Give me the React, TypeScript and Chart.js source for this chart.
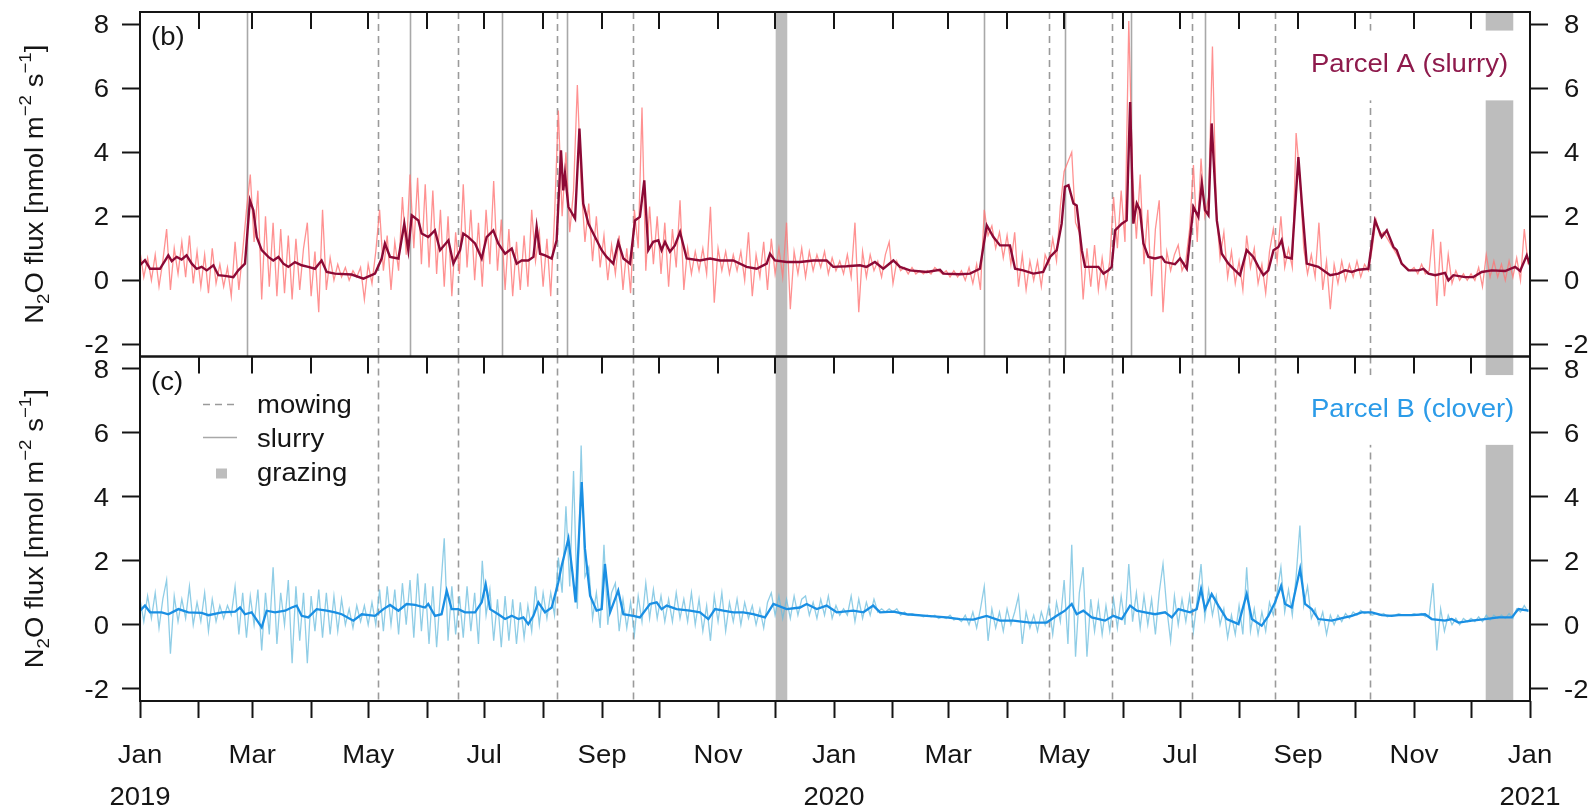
import { useEffect, useRef } from 'react';
import { Chart, registerables } from 'chart.js';

Chart.register(...registerables);

const FONT_FAMILY = '"Liberation Sans", Arial, Helvetica, sans-serif';
const TEXT_STRETCH = 1.1;
const INK = '#151515';

// ---- time axis: days since 1 Jan 2019, ticks at every month start ----
const MONTH_NAMES = ['Jan', 'Feb', 'Mar', 'Apr', 'May', 'Jun', 'Jul', 'Aug', 'Sep', 'Oct', 'Nov', 'Dec'];
const FIRST_YEAR = 2019;
const MONTH_COUNT = 25;
const DAY_MS = 86400000;
const monthStartDays = Array.from(
  { length: MONTH_COUNT },
  (_, k) => (Date.UTC(FIRST_YEAR, k, 1) - Date.UTC(FIRST_YEAR, 0, 1)) / DAY_MS
);
const X_MAX = monthStartDays[MONTH_COUNT - 1];

const Y_TICKS = [-2, 0, 2, 4, 6, 8];
const Y_MIN = -2.38;
const Y_MAX = 8.38;

// ---- management events (day of experiment) ----
const MOWING_DAYS = [125, 167, 219.5, 259.5, 478, 511, 553, 597, 647];
const SLURRY_DAYS = [56.3, 141.8, 190.4, 224.4, 443.9, 486.5, 521, 560];
const GRAZING_PERIODS: [number, number][] = [
  [334.3, 340.4],
  [707.7, 722.2],
];

// ---- smoothed N2O flux, Parcel A (slurry): [day, nmol m-2 s-1] ----
const parcelASmooth: [number, number][] = [
  [0, 0.47], [2.6, 0.63], [5.3, 0.36], [10.5, 0.36], [14.9, 0.78], [16.7, 0.6], [19.3, 0.73], [21.9, 0.65],
  [24.5, 0.78], [27.2, 0.52], [29.8, 0.36], [32.4, 0.42], [35.1, 0.31], [38.6, 0.47], [41.2, 0.16], [44.7, 0.14],
  [49.1, 0.1], [51.7, 0.31], [55.2, 0.52], [57.8, 2.5], [59.6, 2.19], [61.4, 1.35], [64, 0.94], [67.5, 0.73],
  [70.1, 0.62], [72.8, 0.73], [75.4, 0.52], [78, 0.42], [81.5, 0.57], [85, 0.47], [88.5, 0.42], [92, 0.36],
  [95.5, 0.62], [98.2, 0.26], [102.5, 0.21], [111.3, 0.18], [117.5, 0.05], [123.6, 0.21], [127.1, 0.68], [128.8, 1.15],
  [131.5, 0.73], [135.9, 0.68], [139, 1.77], [141.1, 0.94], [142.9, 2.03], [146.4, 1.87], [148.1, 1.46], [151.6, 1.35],
  [155.1, 1.56], [157.8, 0.94], [162.2, 1.25], [164.8, 0.52], [168.3, 0.94], [170, 1.46], [172.7, 1.35], [176.2, 1.15],
  [179.7, 0.68], [182.3, 1.35], [185.8, 1.56], [188.4, 1.15], [192, 0.83], [195.5, 0.99], [198.1, 0.52], [200.7, 0.62],
  [204.2, 0.62], [206.9, 0.73], [208.6, 1.67], [210.4, 0.83], [213, 0.78], [216.5, 0.68], [219.1, 1.25], [221.4, 4.06],
  [222.6, 2.81], [223.5, 3.33], [225.3, 2.29], [228.8, 1.93], [231.1, 4.74], [233.1, 2.4], [235.8, 1.77], [239.3, 1.35],
  [242.8, 0.94], [245.4, 0.73], [248.9, 0.52], [251.5, 1.2], [254.2, 0.68], [257.7, 0.52], [260.3, 1.87], [262.9, 1.98],
  [265.2, 3.12], [267.3, 0.94], [269.9, 1.2], [272.6, 1.25], [274.3, 0.94], [276.1, 1.2], [278.7, 0.89], [281.3, 1.09],
  [284, 1.51], [287.5, 0.68], [294.5, 0.62], [299.8, 0.68], [305, 0.62], [312, 0.62], [319, 0.42], [324.3, 0.36],
  [329.6, 0.52], [331.3, 0.83], [333.9, 0.62], [340.1, 0.57], [347.1, 0.57], [354.1, 0.62], [361.1, 0.62], [364.6, 0.42],
  [371.6, 0.44], [378.6, 0.47], [382.1, 0.42], [386.5, 0.57], [390.9, 0.36], [396.2, 0.62], [399.7, 0.42], [404.9, 0.31],
  [413.7, 0.26], [420.7, 0.33], [422.5, 0.21], [431.2, 0.19], [436.5, 0.21], [441.7, 0.36], [445.3, 1.72], [448.8, 1.35],
  [452.3, 1.09], [457.5, 1.09], [460.2, 0.36], [464.5, 0.31], [469.8, 0.21], [475, 0.26], [478.6, 0.73], [482.1, 0.94],
  [484.7, 1.77], [486.4, 2.92], [488.3, 2.97], [490.9, 2.4], [492.6, 2.34], [495.3, 0.94], [497, 0.42], [504, 0.42],
  [506.7, 0.21], [509.3, 0.31], [511, 0.42], [512.8, 1.56], [516.3, 1.77], [518.9, 1.87], [520.7, 5.57], [522.4, 1.77],
  [524.2, 2.4], [525.9, 2.19], [527.7, 1.15], [530.3, 0.73], [533.8, 0.68], [537.3, 0.73], [539.1, 0.57], [544.3, 0.5],
  [547, 0.68], [550.5, 0.36], [554, 2.29], [556.6, 1.98], [558.4, 3.02], [560.1, 2.19], [561.9, 2.03], [563.6, 4.9],
  [566.3, 1.87], [568.9, 0.83], [572.4, 0.52], [575.9, 0.31], [578.5, 0.16], [582, 0.94], [585.5, 0.73], [588.2, 0.42],
  [590.8, 0.16], [593.4, 0.31], [596.1, 0.94], [598.7, 1.04], [600.4, 1.25], [602.2, 0.73], [605.7, 0.68], [609.2, 3.85],
  [611.3, 2.19], [613.6, 0.52], [619.7, 0.42], [625.9, 0.16], [630.2, 0.21], [633.8, 0.31], [637.3, 0.26], [640.8, 0.33],
  [646, 0.36], [649.5, 1.87], [653, 1.35], [655.7, 1.56], [659.2, 1.04], [660.9, 0.94], [663.5, 0.52], [667.1, 0.31],
  [672.3, 0.31], [675, 0.36], [677.6, 0.21], [681.1, 0.16], [686.3, 0.23], [688.1, 0.0], [690.7, 0.16], [696.9, 0.1],
  [701.2, 0.1], [705.6, 0.26], [710.9, 0.31], [717.9, 0.29], [723.2, 0.42], [725.8, 0.29], [729.3, 0.78], [731, 0.47],
];

// ---- smoothed N2O flux, Parcel B (clover): [day, nmol m-2 s-1] ----
const parcelBSmooth: [number, number][] = [
  [0, 0.44], [2.6, 0.6], [5.3, 0.39], [11.4, 0.39], [14.9, 0.33], [20.2, 0.49], [25.4, 0.39], [32.4, 0.37],
  [36, 0.3], [43, 0.39], [50, 0.41], [52.6, 0.54], [55.2, 0.33], [58.7, 0.39], [64, -0.08], [66.6, 0.44],
  [71, 0.39], [76.3, 0.44], [79.8, 0.54], [82.4, 0.6], [85, 0.28], [88.5, 0.23], [92.9, 0.49], [98.2, 0.44],
  [102.6, 0.39], [106.1, 0.33], [112.2, 0.13], [116.6, 0.33], [123.6, 0.28], [128, 0.49], [131.5, 0.62], [135.9, 0.44],
  [140.2, 0.65], [144.6, 0.62], [149.9, 0.54], [151.6, 0.65], [155.1, 0.28], [158.6, 0.33], [161.3, 1.07], [163.9, 0.49],
  [167.4, 0.49], [170.9, 0.39], [176.2, 0.39], [179.7, 0.7], [181.8, 1.27], [184.1, 0.49], [188.4, 0.33], [192, 0.18],
  [195.5, 0.28], [199, 0.18], [201.6, 0.23], [204.2, 0.02], [206.9, 0.28], [209.5, 0.7], [213, 0.39], [216.5, 0.54],
  [220, 1.33], [221.8, 1.85], [225.3, 2.69], [227.4, 1.64], [229.1, 0.7], [232.3, 4.46], [234, 2.37], [236.7, 0.91],
  [240.1, 0.44], [242.8, 0.49], [244.5, 1.9], [247.2, 0.39], [251.5, 1.07], [254.2, 0.33], [259.4, 0.28], [262.9, 0.23],
  [268.2, 0.65], [271.7, 0.7], [274.3, 0.49], [277, 0.6], [282.2, 0.49], [289.2, 0.44], [294.5, 0.39], [298.9, 0.18],
  [302.4, 0.49], [306.8, 0.44], [312, 0.39], [317.3, 0.39], [322.5, 0.33], [328.7, 0.23], [333.1, 0.65], [340.1, 0.49],
  [347.1, 0.54], [350.6, 0.65], [355.9, 0.49], [361.1, 0.6], [366.4, 0.39], [375.1, 0.44], [380.4, 0.39], [385.6, 0.6],
  [389.2, 0.39], [396.2, 0.41], [403.2, 0.33], [413.7, 0.28], [424.2, 0.23], [431.2, 0.18], [438.2, 0.16], [445.2, 0.28],
  [452.3, 0.13], [459.3, 0.13], [468, 0.07], [476.8, 0.07], [482.1, 0.28], [486.4, 0.44], [490, 0.65], [492.6, 0.33],
  [496.1, 0.44], [500.5, 0.23], [507.5, 0.13], [511.9, 0.28], [516.3, 0.18], [520.7, 0.6], [524.2, 0.44], [528.6, 0.39],
  [533.8, 0.33], [539.1, 0.39], [542.6, 0.23], [546.1, 0.49], [552.2, 0.39], [555.7, 0.49], [558, 1.12], [560.1, 0.49],
  [563.6, 0.96], [567.1, 0.6], [571.5, 0.18], [577.7, 0.02], [582, 0.96], [584.7, 0.18], [589.9, -0.03], [593.4, 0.28],
  [596.9, 0.7], [600.1, 1.22], [602.2, 0.65], [605.7, 0.54], [610.1, 1.75], [612.7, 0.65], [616.2, 0.49], [619.7, 0.18],
  [626.7, 0.13], [633.8, 0.23], [637.3, 0.28], [642.5, 0.39], [647.8, 0.39], [653, 0.3], [658.3, 0.28], [661.8, 0.3],
  [668.8, 0.3], [675.8, 0.33], [679.3, 0.18], [686.3, 0.13], [689.8, 0.18], [693.4, 0.07], [700.4, 0.13], [707.4, 0.18],
  [714.4, 0.23], [721.4, 0.23], [724.9, 0.49], [730.2, 0.44],
];

// ---- raw fluxes, one value every RAW_STEP_DAYS days from 1 Jan 2019 ----
const RAW_STEP_DAYS = 2;

const parcelARaw = [
  0.9, 0.1, 0.7, 0.0, 0.8, -0.2, 0.6, 1.6, -0.3, 1.0, 0.2, 1.2, 0.1, 1.4, -0.1, 0.9, -0.2, 0.8, -0.4, 1.0, -0.1, 0.5, -0.2, 0.4, -0.5,
  1.2, -0.3, 0.9, 2.2, 3.3, 1.2, 2.8, -0.6, 2.0, -0.2, 1.8, -0.5, 1.6, -0.4, 1.4, -0.6, 1.3, -0.3, 1.0, 1.8, -0.5, 0.9, -1.0, 2.2, -0.3,
  0.7, 0.0, 0.5, 0.1, 0.4, 0.0, 0.3, 0.1, 0.4, -0.6, 0.5, -0.1, 0.9, 2.2, 0.3, 1.4, -0.3, 1.2, 0.3, 2.6, 0.8, 3.3, 1.0, 3.2, 0.5,
  3.0, 0.4, 2.8, 0.2, 2.2, -0.2, 2.0, -0.5, 1.5, 0.2, 3.0, 0.4, 2.2, 0.0, 1.8, -0.2, 2.2, 0.5, 3.1, 0.3, 1.9, -0.3, 1.6, -0.5, 1.2,
  -0.3, 1.4, -0.2, 2.2, 0.6, 1.5, -0.2, 1.3, -0.5, 2.0, 5.3, 2.0, 4.0, 1.5, 2.8, 6.1, 3.0, 1.2, 2.4, 0.6, 2.0, 0.4, 1.4, 0.0, 1.1,
  0.2, 1.4, -0.3, 1.0, -0.4, 2.2, 1.0, 5.4, 0.3, 2.3, 0.5, 2.0, 0.2, 1.8, -0.2, 1.6, 0.4, 2.5, -0.3, 1.0, 0.2, 0.9, 0.3, 1.0, 0.2,
  2.3, -0.7, 1.0, 0.3, 0.9, 0.2, 0.8, 0.3, 0.9, 0.0, 1.5, -0.5, 0.8, 0.1, 1.2, -0.3, 1.3, 0.2, 1.0, 0.1, 1.8, -0.9, 0.9, 0.2, 1.0,
  0.1, 0.9, 0.3, 0.8, 0.4, 0.9, 0.2, 0.7, 0.3, 0.6, 0.2, 0.8, 0.1, 1.8, -1.0, 0.9, 0.1, 0.8, 0.3, 0.6, 0.1, 0.8, 1.2, -0.1, 0.6,
  0.3, 0.4, 0.2, 0.4, 0.2, 0.3, 0.2, 0.3, 0.2, 0.4, 0.3, 0.2, 0.3, 0.1, 0.3, 0.1, 0.3, 0.0, 0.4, -0.1, 0.5, -0.3, 2.2, 1.4, 1.7,
  1.0, 1.5, 0.7, 1.4, 0.5, 1.5, -0.2, 0.8, -0.3, 0.6, 0.0, 0.6, -0.2, 0.8, 0.5, 1.3, 0.6, 2.3, 3.4, 3.7, 4.0, 1.8, 1.5, -0.6, 1.0,
  -0.2, 1.1, -0.3, 0.7, -0.2, 0.6, 2.6, 1.0, 2.8, 1.2, 8.1, 3.2, 1.3, 3.3, 0.5, 2.2, -0.5, 1.6, 2.5, -1.0, 0.9, 0.3, 0.8, 1.1, 0.3,
  0.6, 1.6, 3.6, 1.2, 3.8, 2.0, 2.6, 7.3, 2.2, 0.7, 1.5, 0.1, 0.9, -0.1, 0.6, -0.3, 1.4, 0.4, 1.0, -0.1, 0.5, -0.4, 0.9, 1.6, 0.6,
  2.0, 0.4, 1.0, 0.4, 4.6, 3.2, 1.0, 0.2, 0.8, 0.1, 1.8, -0.3, 0.6, -0.9, 0.5, -0.1, 0.6, 0.0, 0.5, 0.1, 0.6, 0.1, 0.5, 0.3, 1.0,
  1.9, 1.4, 1.5, 1.3, 1.1, 0.9, 0.7, 0.5, 0.4, 0.3, 0.4, 0.2, 0.5, 0.2, 0.3, 1.6, -0.8, 1.2, -0.5, 0.8, -0.1, 0.3, 0.0, 0.2, 0.0,
  0.2, 0.0, 0.4, -0.2, 0.8, 0.1, 0.6, 0.1, 0.5, 0.0, 0.6, 0.1, 0.7, 0.0, 1.6, 0.5,
];

const parcelBRaw = [
  0.8, 0.1, 0.9, 0.2, 1.0, -0.1, 0.8, 1.4, -0.9, 0.9, 0.1, 0.8, 0.2, 1.2, 0.0, 0.7, 0.1, 1.0, -0.2, 0.8, 0.1, 0.6, 0.2, 0.6, 0.3,
  1.2, -0.3, 1.0, -0.4, 0.9, 0.0, 1.1, -0.8, 1.0, -0.3, 1.8, -0.6, 1.0, 0.0, 1.4, -1.2, 1.2, -0.5, 1.0, -1.2, 0.9, -0.2, 1.1, -0.4, 1.0,
  -0.3, 0.9, -0.2, 0.8, 0.0, 0.5, -0.1, 0.6, 0.1, 0.6, 0.0, 0.7, 0.0, 1.1, -0.2, 1.2, 0.0, 1.1, -0.3, 1.3, 0.0, 1.4, -0.4, 1.6, -0.2,
  1.3, -0.6, 1.2, -0.7, 1.0, 2.7, -0.5, 1.2, -0.3, 0.9, -0.4, 1.2, -0.2, 1.0, -0.6, 2.0, 0.3, 1.1, -0.5, 0.8, -0.7, 0.9, -0.5, 0.8, -0.6,
  0.7, -0.4, 0.6, -0.2, 1.2, 0.0, 1.0, 0.2, 1.0, 0.3, 2.1, 1.0, 3.7, 1.2, 4.8, 0.5, 5.6, 1.5, 1.8, 0.2, 1.0, -0.1, 2.5, 0.0, 1.0,
  1.3, -0.2, 0.8, -0.1, 0.7, -0.3, 0.9, 0.1, 1.3, 0.2, 1.1, 0.2, 0.9, 0.1, 0.8, 0.1, 1.0, 0.2, 0.8, 0.1, 1.0, 0.0, 0.8, -0.2, 0.6,
  -0.5, 0.9, 0.1, 1.0, -0.2, 0.7, 0.1, 0.8, 0.0, 0.7, 0.2, 0.6, 0.0, 0.5, -0.1, 0.7, 1.0, 0.3, 0.9, 0.2, 0.8, 0.2, 0.9, 0.3, 0.8,
  0.9, 0.3, 0.7, 0.2, 0.8, 0.3, 0.9, 0.2, 0.6, 0.3, 0.5, 0.3, 0.9, 0.1, 0.8, 0.2, 0.7, 0.3, 0.8, 0.4, 0.5, 0.4, 0.5, 0.4, 0.5,
  0.3, 0.4, 0.3, 0.35, 0.3, 0.3, 0.25, 0.3, 0.25, 0.3, 0.2, 0.25, 0.2, 0.3, 0.15, 0.2, 0.1, 0.3, 0.0, 0.4, -0.1, 0.5, 1.2, -0.5, 0.5,
  -0.1, 0.4, -0.2, 0.5, 0.0, 0.4, 0.9, -0.6, 0.4, -0.1, 0.3, -0.2, 0.4, 0.0, 0.6, -0.3, 0.7, 0.1, 1.4, -0.6, 2.5, -1.0, 1.0, 1.8, -1.0,
  0.8, -0.2, 0.7, -0.3, 0.6, -0.2, 0.8, -0.1, 0.9, 0.0, 1.9, 0.1, 1.0, -0.1, 0.9, 0.0, 0.8, -0.3, 1.0, 1.9, 0.5, -0.5, 0.9, 0.0, 0.8,
  0.1, 0.9, -0.2, 0.8, 1.9, 0.2, 1.1, 0.3, 0.9, 0.0, 0.5, -0.4, 0.3, -0.3, 0.6, -0.3, 1.8, -0.2, 0.5, -0.3, 0.4, -0.2, 0.7, 0.3, 1.0,
  1.8, 0.4, 1.1, 0.3, 1.5, 3.1, 0.6, 1.2, 0.2, 0.5, 0.0, 0.4, -0.3, 0.3, 0.0, 0.3, 0.1, 0.35, 0.2, 0.4, 0.3, 0.45, 0.35, 0.4, 0.3,
  0.35, 0.3, 0.35, 0.25, 0.3, 0.3, 0.35, 0.3, 0.3, 0.3, 0.35, 0.3, 0.35, 0.25, 0.3, 1.3, -0.8, 0.5, -0.2, 0.3, 0.0, 0.2, 0.0, 0.2, 0.1,
  0.2, 0.1, 0.25, 0.1, 0.3, 0.15, 0.3, 0.2, 0.3, 0.2, 0.35, 0.2, 0.5, 0.4, 0.6, 0.4,
];

const COLORS = {
  aSmooth: '#8c0a36',
  aRaw: 'rgba(255, 118, 118, 0.8)',
  aLabel: '#8e1a4c',
  bSmooth: '#1a8fe3',
  bRaw: 'rgba(105, 188, 222, 0.75)',
  bLabel: '#2b9be8',
  mowing: '#9a9a9a',
  slurry: '#a8a8a8',
  grazing: '#bdbdbd',
};

type Panel = {
  scaleId: string;
  tag: string;
  name: string;
  nameColor: string;
  showSlurry: boolean;
  showLegend: boolean;
};

const PANELS: Panel[] = [
  { scaleId: 'yA', tag: '(b)', name: 'Parcel A (slurry)', nameColor: COLORS.aLabel, showSlurry: true, showLegend: false },
  { scaleId: 'yB', tag: '(c)', name: 'Parcel B (clover)', nameColor: COLORS.bLabel, showSlurry: false, showLegend: true },
];

function drawText(
  ctx: CanvasRenderingContext2D,
  text: string,
  x: number,
  y: number,
  align: CanvasTextAlign,
  color = INK,
  size = 25
) {
  ctx.save();
  ctx.translate(x, y);
  ctx.scale(TEXT_STRETCH, 1);
  ctx.font = `${size}px ${FONT_FAMILY}`;
  ctx.fillStyle = color;
  ctx.textAlign = align;
  ctx.textBaseline = 'alphabetic';
  ctx.fillText(text, 0, 0);
  ctx.restore();
}

// Rotated axis title with sub- and superscripts: N2O flux [nmol m-2 s-1]
function drawFluxTitle(ctx: CanvasRenderingContext2D, baseX: number, centerY: number) {
  const runs = [
    { t: 'N', s: 25, dy: 0 },
    { t: '2', s: 17, dy: 6 },
    { t: 'O flux [nmol m', s: 25, dy: 0 },
    { t: '\u22122', s: 17, dy: -12 },
    { t: ' s', s: 25, dy: 0 },
    { t: '\u22121', s: 17, dy: -12 },
    { t: ']', s: 25, dy: 0 },
  ];
  ctx.save();
  ctx.translate(baseX, centerY);
  ctx.rotate(-Math.PI / 2);
  ctx.scale(TEXT_STRETCH, 1);
  ctx.fillStyle = INK;
  ctx.textAlign = 'left';
  ctx.textBaseline = 'alphabetic';
  const widths = runs.map((r) => {
    ctx.font = `${r.s}px ${FONT_FAMILY}`;
    return ctx.measureText(r.t).width;
  });
  const total = widths.reduce((a, b) => a + b, 0);
  let x = -total / 2;
  runs.forEach((r, i) => {
    ctx.font = `${r.s}px ${FONT_FAMILY}`;
    ctx.fillText(r.t, x, r.dy);
    x += widths[i];
  });
  ctx.restore();
}

const panelDecor = {
  id: 'panelDecor',
  beforeDatasetsDraw(chart: any) {
    const { ctx, chartArea } = chart;
    const xs = chart.scales.x;
    for (const panel of PANELS) {
      const ys = chart.scales[panel.scaleId];
      const top = ys.top;
      const bottom = ys.bottom;
      ctx.save();
      ctx.beginPath();
      ctx.rect(chartArea.left, top, chartArea.right - chartArea.left, bottom - top);
      ctx.clip();

      // grazing periods
      ctx.fillStyle = COLORS.grazing;
      for (const [a, b] of GRAZING_PERIODS) {
        const x0 = xs.getPixelForValue(a);
        const x1 = xs.getPixelForValue(b);
        ctx.fillRect(x0, top, x1 - x0, bottom - top);
      }

      // mowing
      ctx.strokeStyle = COLORS.mowing;
      ctx.lineWidth = 1.6;
      ctx.setLineDash([7, 5]);
      for (const d of MOWING_DAYS) {
        const x = Math.round(xs.getPixelForValue(d)) + 0.5;
        ctx.beginPath();
        ctx.moveTo(x, top);
        ctx.lineTo(x, bottom);
        ctx.stroke();
      }
      ctx.setLineDash([]);

      // slurry application
      if (panel.showSlurry) {
        ctx.strokeStyle = COLORS.slurry;
        ctx.lineWidth = 1.6;
        for (const d of SLURRY_DAYS) {
          const x = Math.round(xs.getPixelForValue(d)) + 0.5;
          ctx.beginPath();
          ctx.moveTo(x, top);
          ctx.lineTo(x, bottom);
          ctx.stroke();
        }
      }

      // white backing behind the parcel name
      const boxTop = ys.getPixelForValue(7.8);
      const boxBottom = ys.getPixelForValue(5.62);
      ctx.fillStyle = '#ffffff';
      ctx.fillRect(chartArea.right - 236, boxTop, 234, boxBottom - boxTop);
      ctx.restore();
    }
  },
  afterDraw(chart: any) {
    const { ctx, chartArea } = chart;
    const xs = chart.scales.x;
    const left = chartArea.left;
    const right = chartArea.right;

    for (const panel of PANELS) {
      const ys = chart.scales[panel.scaleId];
      const top = ys.top;
      const bottom = ys.bottom;

      // panel frame
      ctx.save();
      ctx.strokeStyle = INK;
      ctx.lineWidth = 2;
      ctx.strokeRect(left, top, right - left, bottom - top);

      // inward month ticks along the top edge
      ctx.beginPath();
      for (const d of monthStartDays) {
        const x = Math.round(xs.getPixelForValue(d));
        ctx.moveTo(x, top);
        ctx.lineTo(x, top + 17);
      }
      ctx.stroke();
      ctx.restore();

      // y tick labels on both sides
      for (const v of Y_TICKS) {
        const y = ys.getPixelForValue(v) + 9;
        drawText(ctx, String(v), left - 31, y, 'right');
        drawText(ctx, String(v), right + 34, y, 'left');
      }

      drawFluxTitle(ctx, left - 97, (top + bottom) / 2);
      drawText(ctx, panel.tag, left + 11, top + 33, 'left');
      drawText(ctx, panel.name, right - 219, top + 60, 'left', panel.nameColor);

      if (panel.showLegend) {
        const lx0 = left + 63;
        const lx1 = left + 97;
        ctx.save();
        ctx.lineWidth = 1.6;
        ctx.strokeStyle = COLORS.mowing;
        ctx.setLineDash([7, 5]);
        ctx.beginPath();
        ctx.moveTo(lx0, top + 48);
        ctx.lineTo(lx1, top + 48);
        ctx.stroke();
        ctx.setLineDash([]);
        ctx.strokeStyle = COLORS.slurry;
        ctx.beginPath();
        ctx.moveTo(lx0, top + 81);
        ctx.lineTo(lx1, top + 81);
        ctx.stroke();
        ctx.fillStyle = COLORS.grazing;
        ctx.fillRect(left + 76, top + 112, 11, 10);
        ctx.restore();
        drawText(ctx, 'mowing', left + 117, top + 56, 'left');
        drawText(ctx, 'slurry', left + 117, top + 90, 'left');
        drawText(ctx, 'grazing', left + 117, top + 124, 'left');
      }
    }

    // month labels every second month, year under each January
    monthStartDays.forEach((d, k) => {
      if (k % 2 !== 0) return;
      const x = xs.getPixelForValue(d);
      const month = k % 12;
      drawText(ctx, MONTH_NAMES[month], x, chartArea.bottom + 62, 'center');
      if (month === 0) {
        drawText(ctx, String(FIRST_YEAR + Math.floor(k / 12)), x, chartArea.bottom + 104, 'center');
      }
    });
  },
};

function yAxis(position: 'left' | 'right') {
  return {
    type: 'linear',
    position,
    stack: position,
    stackWeight: 1,
    min: Y_MIN,
    max: Y_MAX,
    afterBuildTicks: (s: any) => {
      s.ticks = Y_TICKS.map((value) => ({ value }));
    },
    afterFit: (s: any) => {
      s.width = position === 'left' ? 140 : 58;
      s.paddingTop = 0;
      s.paddingBottom = 0;
    },
    grid: { drawOnChartArea: false, drawTicks: true, tickLength: 18, tickWidth: 2, tickColor: INK },
    border: { display: false },
    ticks: { display: false },
  };
}

export default function App() {
  const canvasRef = useRef<HTMLCanvasElement | null>(null);

  useEffect(() => {
    const canvas = canvasRef.current;
    if (!canvas) return;

    const chart = new Chart(canvas, {
      type: 'line',
      data: {
        datasets: [
          {
            data: parcelASmooth.map(([x, y]) => ({ x, y })),
            yAxisID: 'yA',
            borderColor: COLORS.aSmooth,
            borderWidth: 2.4,
            pointRadius: 0,
          },
          {
            data: parcelBSmooth.map(([x, y]) => ({ x, y })),
            yAxisID: 'yB',
            borderColor: COLORS.bSmooth,
            borderWidth: 2.3,
            pointRadius: 0,
          },
          {
            data: parcelARaw.map((y, i) => ({ x: i * RAW_STEP_DAYS, y })),
            yAxisID: 'yA',
            borderColor: COLORS.aRaw,
            borderWidth: 1.3,
            pointRadius: 0,
          },
          {
            data: parcelBRaw.map((y, i) => ({ x: i * RAW_STEP_DAYS, y })),
            yAxisID: 'yB',
            borderColor: COLORS.bRaw,
            borderWidth: 1.3,
            pointRadius: 0,
          },
        ],
      },
      options: {
        responsive: false,
        animation: false,
        devicePixelRatio: 1,
        events: [],
        layout: { padding: { top: 12, left: 0, right: 0, bottom: 0 }, autoPadding: false },
        plugins: { legend: { display: false }, tooltip: { enabled: false } },
        scales: {
          x: {
            type: 'linear',
            position: 'bottom',
            min: 0,
            max: X_MAX,
            afterBuildTicks: (s: any) => {
              s.ticks = monthStartDays.map((value) => ({ value }));
            },
            afterFit: (s: any) => {
              s.height = 106;
              s.paddingLeft = 0;
              s.paddingRight = 0;
            },
            grid: { drawOnChartArea: false, drawTicks: true, tickLength: 17, tickWidth: 2, tickColor: INK },
            border: { display: false },
            ticks: { display: false },
          },
          // stacked panels: the clover parcel sits below the slurry parcel
          yB: yAxis('left'),
          yA: yAxis('left'),
          yB2: yAxis('right'),
          yA2: yAxis('right'),
        } as any,
      },
      plugins: [panelDecor],
    } as any);

    return () => chart.destroy();
  }, []);

  return (
    <div style={{ position: 'absolute', left: 0, top: 0, width: 1588, height: 807, background: '#ffffff' }}>
      <canvas ref={canvasRef} width={1588} height={807} style={{ display: 'block' }} />
    </div>
  );
}
